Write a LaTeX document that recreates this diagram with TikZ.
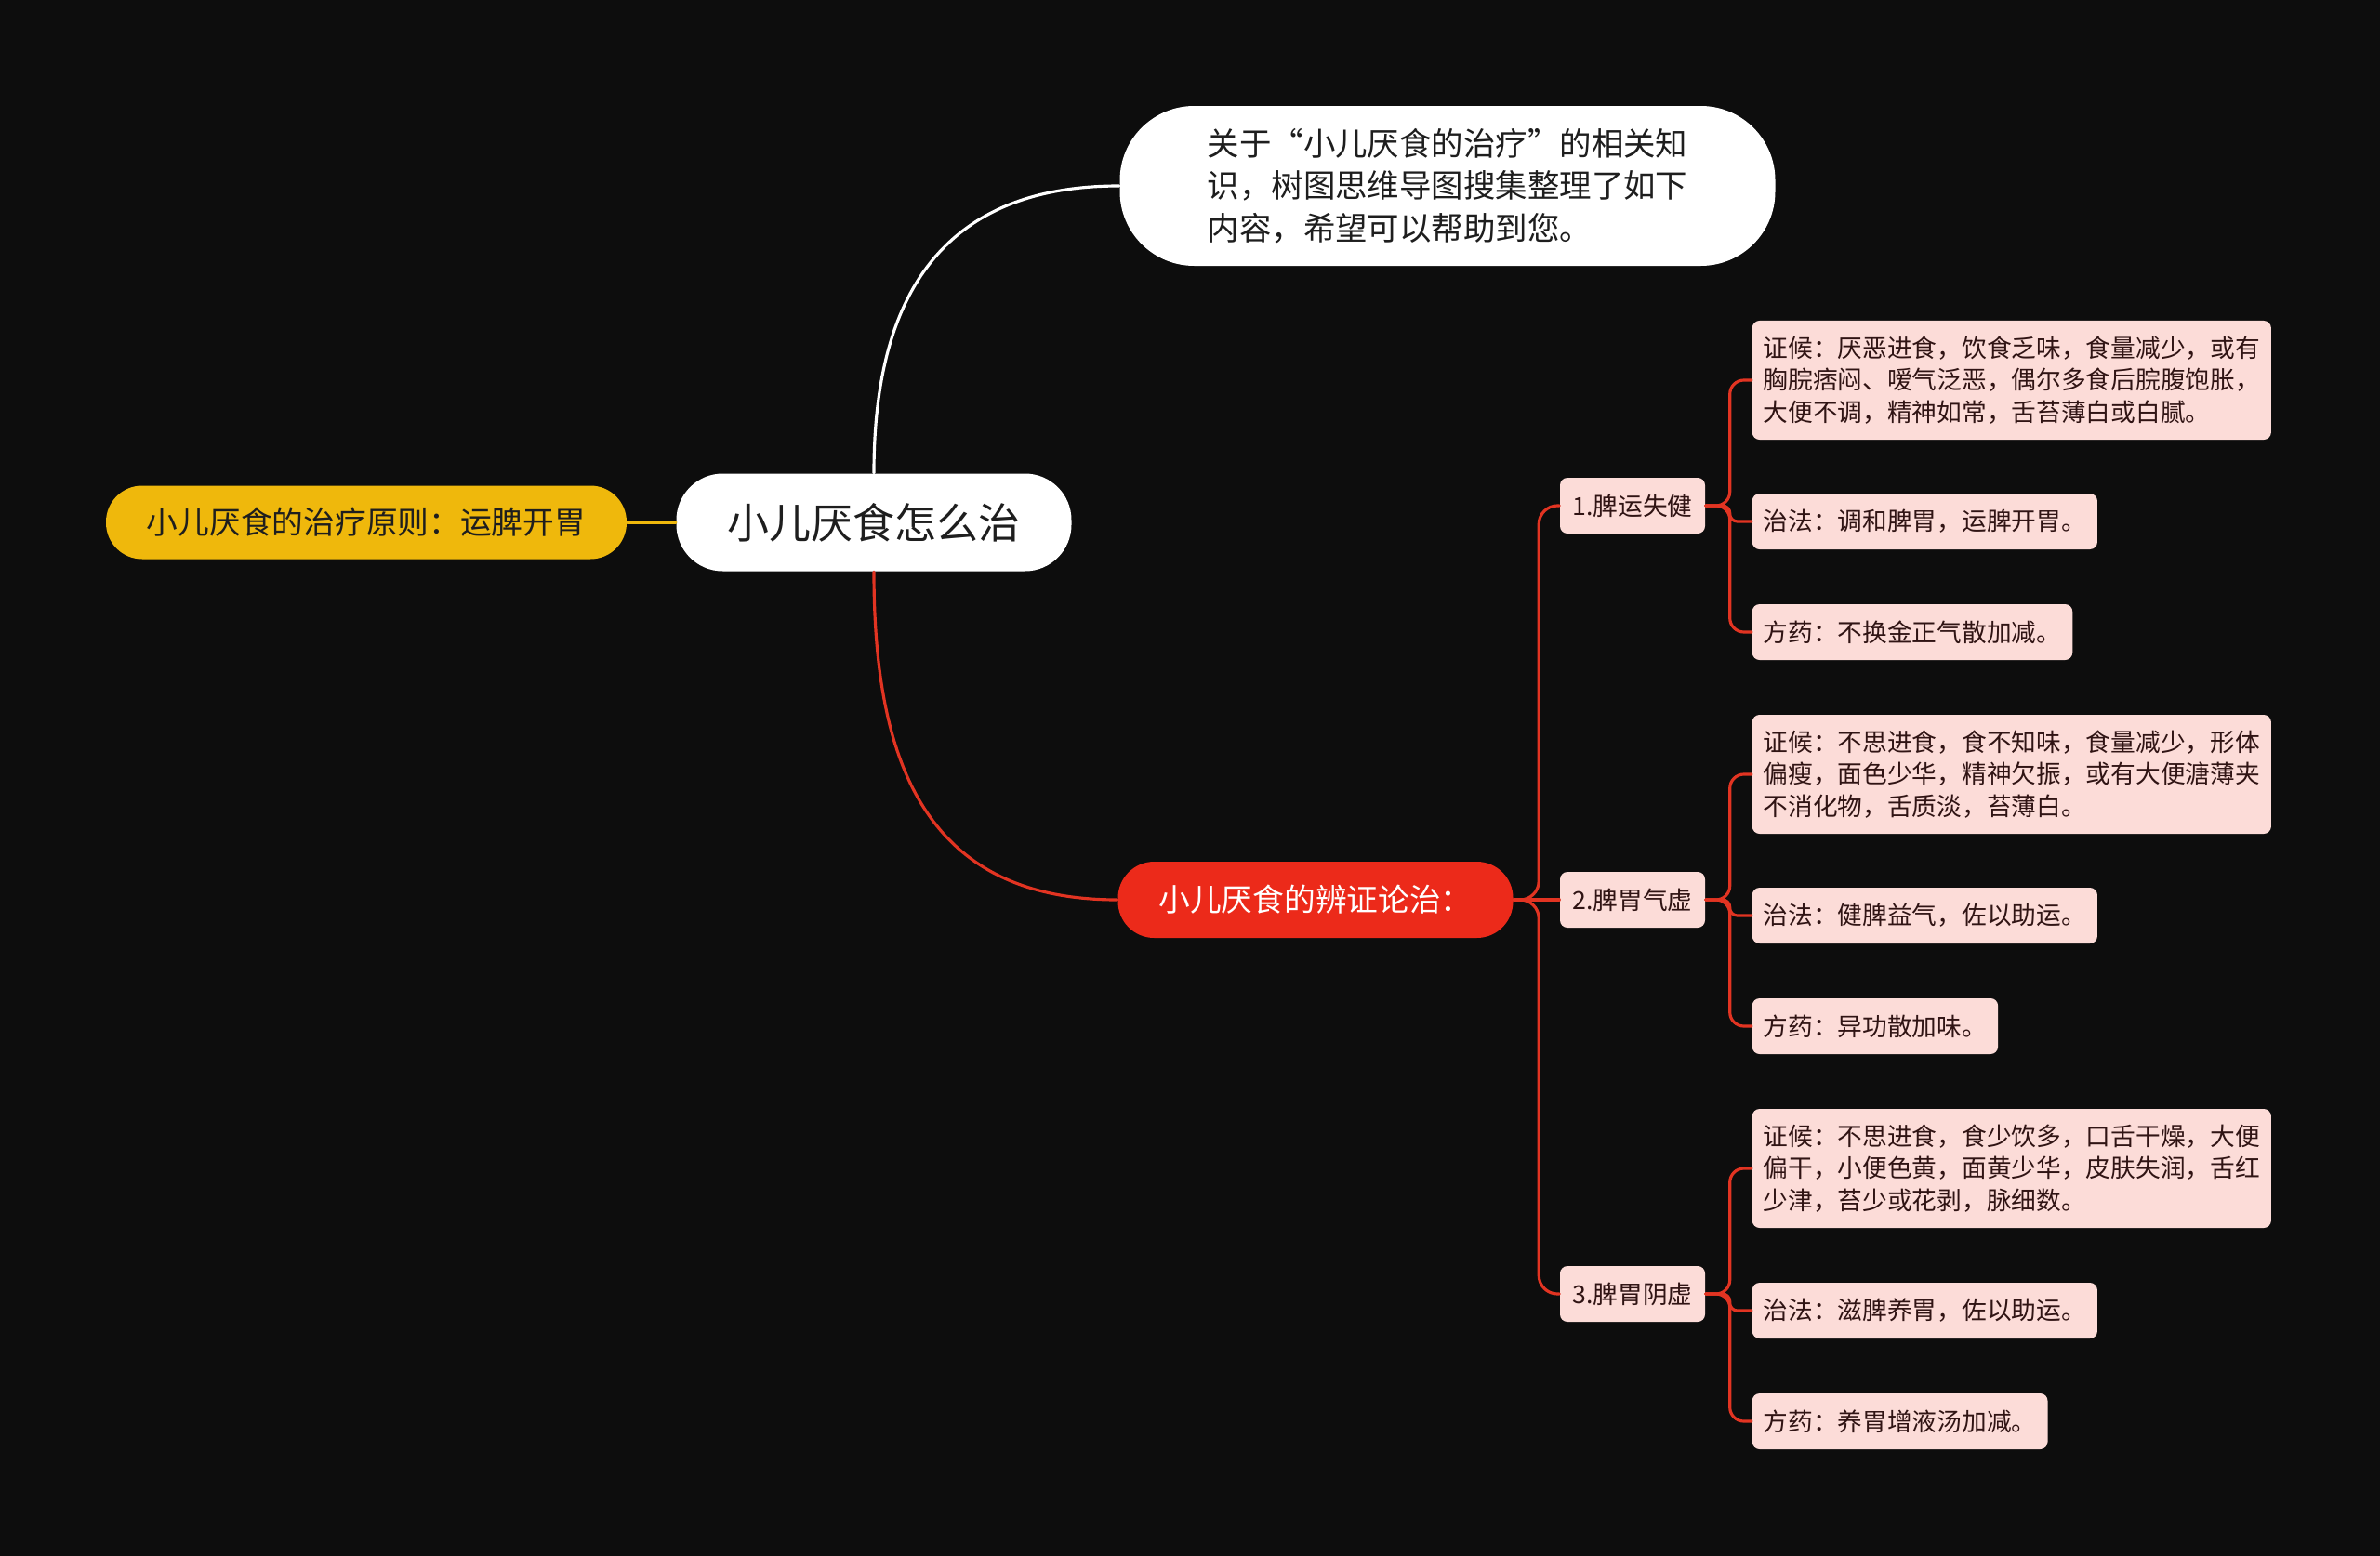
\documentclass[tikz,border=0pt]{standalone}
\usepackage{fontspec}
\setmainfont{Noto Sans CJK SC}
\usetikzlibrary{calc}
\definecolor{bgblack}{RGB}{13,13,13}
\definecolor{leafpink}{RGB}{252,220,216}
\definecolor{leaftext}{RGB}{48,20,20}
\definecolor{branchred}{RGB}{236,42,26}
\definecolor{linkred}{RGB}{226,52,34}
\definecolor{goldyellow}{RGB}{239,184,12}
\definecolor{rootgray}{RGB}{30,30,30}

\begin{document}
\begin{tikzpicture}[
    line cap=round,
    line join=round,
    link/.style={line width=0.9pt, linkred},
    rootbox/.style={fill=white, text=rootgray, inner sep=0pt,
        rounded corners=0.5cm, font=\fontsize{12.8}{15}\selectfont},
    mainbranch/.style={inner sep=0pt, rounded corners=0.39cm,
        font=\fontsize{9.6}{12}\selectfont},
    subbranch/.style={fill=leafpink, text=leaftext, inner sep=0pt,
        rounded corners=0.08cm, minimum width=1.56cm, minimum height=0.6cm,
        font=\fontsize{7.6}{9.75}\selectfont},
    leafbox/.style={fill=leafpink, text=leaftext, anchor=west, align=left,
        rounded corners=0.08cm, inner xsep=0.12cm, inner ysep=0.17cm,
        minimum height=0.6cm, font=\fontsize{7.6}{9.75}\selectfont},
]

% ── Canvas ──────────────────────────────────────────────────────────────────
\fill[bgblack] (0,0) rectangle (25.6,-16.74);

% ── Centre and first-level topics ───────────────────────────────────────────
\node[rootbox, minimum width=4.25cm, minimum height=1.05cm]
    (root) at (9.40,-5.62) {小儿厌食怎么治};

\node[rootbox, minimum width=7.05cm, minimum height=1.72cm, align=left,
      rounded corners=0.8cm, font=\fontsize{9.8}{13}\selectfont]
    (info) at (15.57,-2.00)
    {关于“小儿厌食的治疗”的相关知\\识，树图思维导图搜集整理了如下\\内容，希望可以帮助到您。};

\node[mainbranch, fill=goldyellow, text=rootgray,
      minimum width=5.6cm, minimum height=0.79cm]
    (principle) at (3.94,-5.62) {小儿厌食的治疗原则：运脾开胃};

\node[mainbranch, fill=branchred, text=white,
      minimum width=4.25cm, minimum height=0.82cm]
    (diff) at (14.15,-9.68) {小儿厌食的辨证论治：};

% ── Connectors from the centre ──────────────────────────────────────────────
\draw[link, white] (root.north) to[out=90, in=180, looseness=1.2] (info.west);
\draw[link, goldyellow] (principle.east) -- (root.west);
\draw[link] (root.south) to[out=-90, in=180, looseness=1.2] (diff.west);

% ── Syndrome types ──────────────────────────────────────────────────────────
\node[subbranch] (spl1) at (17.56,-5.44) {1.脾运失健};
\node[subbranch] (spl2) at (17.56,-9.68) {2.脾胃气虚};
\node[subbranch] (spl3) at (17.56,-13.92) {3.脾胃阴虚};

\draw[link] (diff.east) -- (spl2.west);
\draw[link, rounded corners=0.2cm] (diff.east) -- ++(0.27,0) |- (spl1.west);
\draw[link, rounded corners=0.2cm] (diff.east) -- ++(0.27,0) |- (spl3.west);

% ── 1. 脾运失健 ─────────────────────────────────────────────────────────────
\node[leafbox] (s1sym) at (18.84,-4.09)
    {证候：厌恶进食，饮食乏味，食量减少，或有\\胸脘痞闷、嗳气泛恶，偶尔多食后脘腹饱胀，\\大便不调，精神如常，舌苔薄白或白腻。};
\node[leafbox] (s1law) at (18.84,-5.61) {治法：调和脾胃，运脾开胃。};
\node[leafbox] (s1rx)  at (18.84,-6.80) {方药：不换金正气散加减。};

\draw[link, rounded corners=0.15cm] (spl1.east) -- ++(0.26,0) |- (s1sym.west);
\draw[link, rounded corners=0.08cm] (spl1.east) -- ++(0.26,0) |- (s1law.west);
\draw[link, rounded corners=0.15cm] (spl1.east) -- ++(0.26,0) |- (s1rx.west);

% ── 2. 脾胃气虚 ─────────────────────────────────────────────────────────────
\node[leafbox] (s2sym) at (18.84,-8.33)
    {证候：不思进食，食不知味，食量减少，形体\\偏瘦，面色少华，精神欠振，或有大便溏薄夹\\不消化物，舌质淡，苔薄白。};
\node[leafbox] (s2law) at (18.84,-9.85) {治法：健脾益气，佐以助运。};
\node[leafbox] (s2rx)  at (18.84,-11.04) {方药：异功散加味。};

\draw[link, rounded corners=0.15cm] (spl2.east) -- ++(0.26,0) |- (s2sym.west);
\draw[link, rounded corners=0.08cm] (spl2.east) -- ++(0.26,0) |- (s2law.west);
\draw[link, rounded corners=0.15cm] (spl2.east) -- ++(0.26,0) |- (s2rx.west);

% ── 3. 脾胃阴虚 ─────────────────────────────────────────────────────────────
\node[leafbox] (s3sym) at (18.84,-12.57)
    {证候：不思进食，食少饮多，口舌干燥，大便\\偏干，小便色黄，面黄少华，皮肤失润，舌红\\少津，苔少或花剥，脉细数。};
\node[leafbox] (s3law) at (18.84,-14.10) {治法：滋脾养胃，佐以助运。};
\node[leafbox] (s3rx)  at (18.84,-15.29) {方药：养胃增液汤加减。};

\draw[link, rounded corners=0.15cm] (spl3.east) -- ++(0.26,0) |- (s3sym.west);
\draw[link, rounded corners=0.08cm] (spl3.east) -- ++(0.26,0) |- (s3law.west);
\draw[link, rounded corners=0.15cm] (spl3.east) -- ++(0.26,0) |- (s3rx.west);

\end{tikzpicture}
\end{document}
